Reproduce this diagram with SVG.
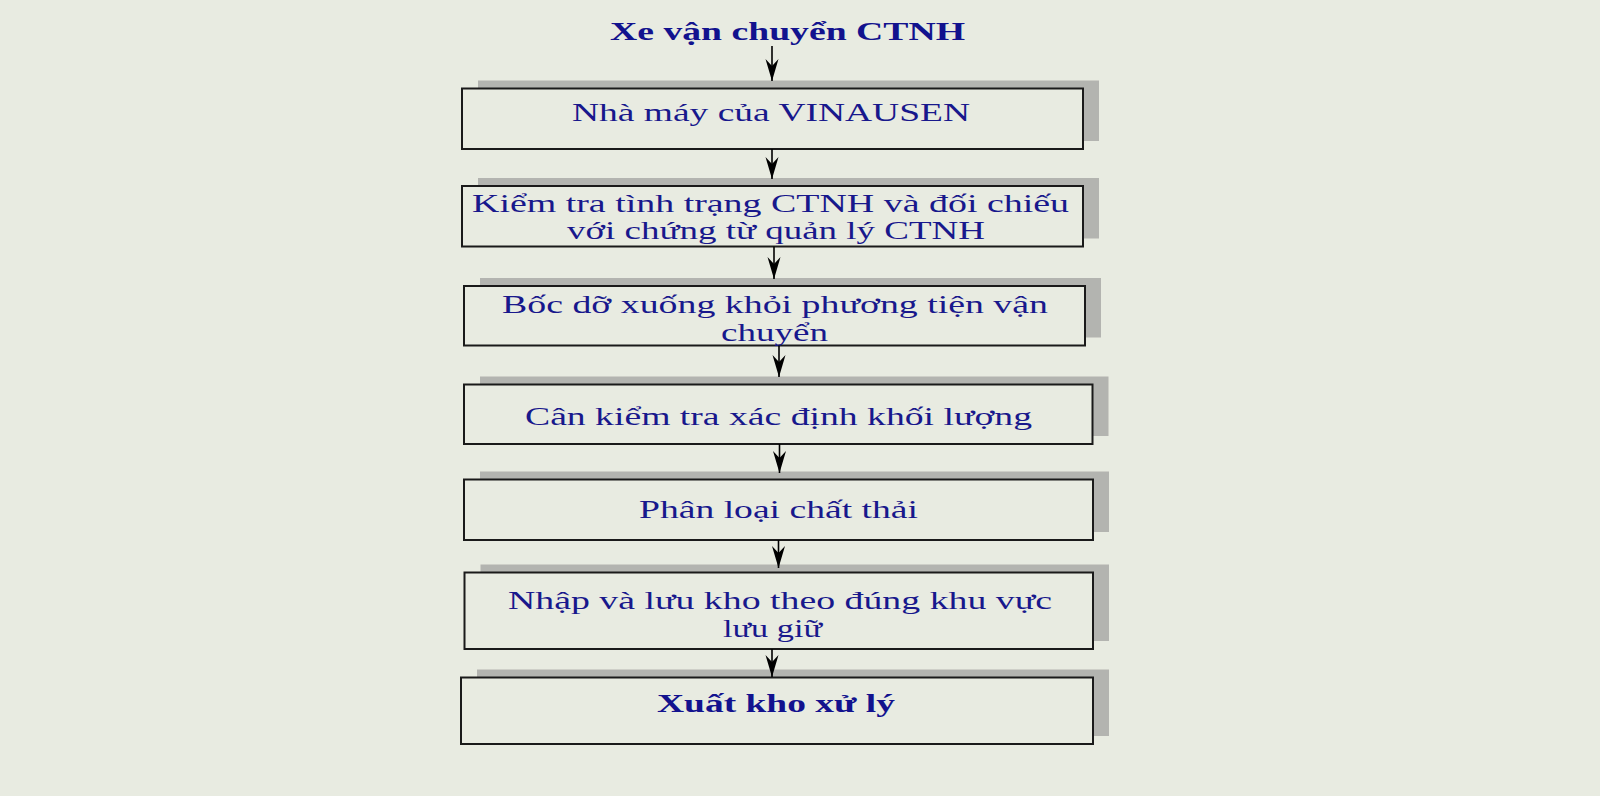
<svg xmlns="http://www.w3.org/2000/svg" width="1600" height="796" viewBox="0 0 1600 796">
<defs>
<style>
.bg{fill:#E8EBE1}
.sh{fill:#B3B4B0}
.bx{fill:#E8EBE1;stroke:#1a1a1a;stroke-width:2}
.t{font-family:"Liberation Serif","Times New Roman",serif;font-size:24.5px;fill:#18188c}
.b{font-weight:bold;fill:#12128e}
.cn{stroke:#000;stroke-width:1.6;fill:none}
</style>
<marker id="ah" viewBox="-23 -8 25 16" refX="0" refY="0" markerWidth="25" markerHeight="16" markerUnits="userSpaceOnUse" orient="auto">
<path d="M0,0 L-22,-6.5 L-15,0 L-22,6.5 Z" fill="#000"/>
</marker>
</defs>
<rect class="bg" x="0" y="0" width="1600" height="796"/>

<g id="title">
<text class="t b" x="610" y="40" textLength="355" lengthAdjust="spacingAndGlyphs">Xe vận chuyển CTNH</text>
</g>

<g id="node1">
<rect class="sh" x="478" y="80.5" width="621" height="60.5"/>
<rect class="bx" x="462" y="88.5" width="621" height="60.5"/>
<text class="t" x="572" y="121" textLength="398" lengthAdjust="spacingAndGlyphs">Nhà máy của VINAUSEN</text>
</g>

<g id="node2">
<rect class="sh" x="478" y="178" width="621" height="60.5"/>
<rect class="bx" x="462" y="186" width="621" height="60.5"/>
<text class="t" x="472" y="211.5" textLength="597" lengthAdjust="spacingAndGlyphs">Kiểm tra tình trạng CTNH và đối chiếu</text>
<text class="t" x="567" y="239" textLength="418" lengthAdjust="spacingAndGlyphs">với chứng từ quản lý CTNH</text>
</g>

<g id="node3">
<rect class="sh" x="480" y="278" width="621" height="59.5"/>
<rect class="bx" x="464" y="286" width="621" height="59.5"/>
<text class="t" x="502" y="313" textLength="546" lengthAdjust="spacingAndGlyphs">Bốc dỡ xuống khỏi phương tiện vận</text>
<text class="t" x="721" y="340.5" textLength="107" lengthAdjust="spacingAndGlyphs">chuyển</text>
</g>

<g id="node4">
<rect class="sh" x="480" y="376.5" width="628.5" height="59.5"/>
<rect class="bx" x="464" y="384.5" width="628.5" height="59.5"/>
<text class="t" x="525" y="425" textLength="507" lengthAdjust="spacingAndGlyphs">Cân kiểm tra xác định khối lượng</text>
</g>

<g id="node5">
<rect class="sh" x="480" y="471.5" width="629" height="60.5"/>
<rect class="bx" x="464" y="479.5" width="629" height="60.5"/>
<text class="t" x="639" y="518" textLength="279" lengthAdjust="spacingAndGlyphs">Phân loại chất thải</text>
</g>

<g id="node6">
<rect class="sh" x="480.5" y="564.5" width="628.5" height="76.5"/>
<rect class="bx" x="464.5" y="572.5" width="628.5" height="76.5"/>
<text class="t" x="508" y="609" textLength="544" lengthAdjust="spacingAndGlyphs">Nhập và lưu kho theo đúng khu vực</text>
<text class="t" x="723" y="637" textLength="99" lengthAdjust="spacingAndGlyphs">lưu giữ</text>
</g>

<g id="node7">
<rect class="sh" x="477" y="669.5" width="632" height="66.5"/>
<rect class="bx" x="461" y="677.5" width="632" height="66.5"/>
<text class="t b" x="657" y="712" textLength="238" lengthAdjust="spacingAndGlyphs">Xuất kho xử lý</text>
</g>

<g id="connectors">
<line class="cn" x1="772" y1="46" x2="772" y2="81" marker-end="url(#ah)"/>
<line class="cn" x1="772" y1="149" x2="772" y2="179" marker-end="url(#ah)"/>
<line class="cn" x1="774" y1="246.5" x2="774" y2="279" marker-end="url(#ah)"/>
<line class="cn" x1="779" y1="345.5" x2="779" y2="377" marker-end="url(#ah)"/>
<line class="cn" x1="779.5" y1="444" x2="779.5" y2="473" marker-end="url(#ah)"/>
<line class="cn" x1="778.5" y1="540" x2="778.5" y2="568" marker-end="url(#ah)"/>
<line class="cn" x1="772" y1="649" x2="772" y2="677" marker-end="url(#ah)"/>
</g>
</svg>
